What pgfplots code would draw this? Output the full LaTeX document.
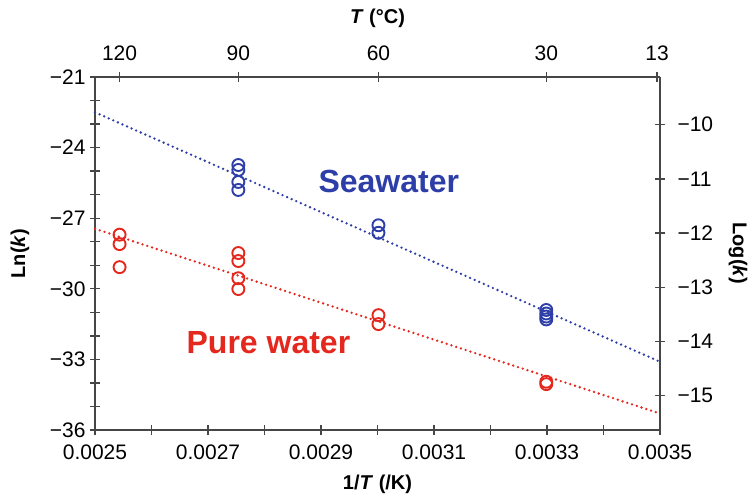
\documentclass[border=0pt]{standalone}
\usepackage{fontspec}
\setmainfont{Liberation Sans}
\usepackage{pgfplots}
\pgfplotsset{compat=1.18}
\definecolor{sea}{RGB}{46,62,168}
\definecolor{pure}{RGB}{228,40,30}
\definecolor{axgray}{RGB}{70,70,70}

\pgfplotstableread{
x y
0.0027537 -24.74
0.0027537 -24.95
0.0027537 -25.46
0.0027537 -25.80
0.0030017 -27.30
0.0030017 -27.62
0.0032987 -30.90
0.0032987 -31.05
0.0032987 -31.18
0.0032987 -31.30
}\seawater

\pgfplotstableread{
x y
0.0025435 -27.70
0.0025435 -28.10
0.0025435 -29.08
0.0027537 -28.48
0.0027537 -28.82
0.0027537 -29.55
0.0027537 -30.01
0.0030017 -31.12
0.0030017 -31.50
0.0032987 -33.95
0.0032987 -34.05
}\purewater

\begin{document}
\begin{tikzpicture}
\pgfplotsset{
  base/.style={
    width=565pt, height=353pt, scale only axis,
    xmin=0.0025, xmax=0.0035,
    scaled x ticks=false, scaled y ticks=false,
    axis line style={axgray, line width=1.3pt},
    tick style={axgray, line width=1.3pt},
    tick align=center,
    major tick length=10pt, minor tick length=10pt,
    tick label style={font=\fontsize{21}{24}\selectfont},
    label style={font=\fontsize{20}{24}\selectfont\bfseries},
    clip=false,
  }
}
% main axis: 1/T against ln(k)
\begin{axis}[base,
  axis x line*=bottom, axis y line*=left,
  ymin=-36, ymax=-21,
  xtick={0.0025,0.0027,0.0029,0.0031,0.0033,0.0035},
  xticklabels={0.0025,0.0027,0.0029,0.0031,0.0033,0.0035},
  minor xtick={0.0026,0.0028,0.0030,0.0032,0.0034},
  ytick={-36,-33,-30,-27,-24,-21},
  yticklabels={−36,−33,−30,−27,−24,−21},
  minor ytick={-35,-34,-32,-31,-29,-28,-26,-25,-23,-22},
  xticklabel shift=6pt,
  yticklabel shift=1pt,
  xlabel={1/\textit{T} (/K)},
  ylabel={Ln(\textit{k})},
  xlabel style={at={(axis description cs:0.5,-0.153)}, anchor=center},
  ylabel style={at={(axis description cs:-0.133,0.5)}, anchor=center},
]
\coordinate (sw) at (rel axis cs:0,0);
\coordinate (ne) at (rel axis cs:1,1);
\addplot[sea, line width=2.6pt, line cap=round, dash pattern=on 0pt off 5pt]
  coordinates {(0.0025,-22.5) (0.0035,-33.1)};
\addplot[pure, line width=2.6pt, line cap=round, dash pattern=on 0pt off 5pt]
  coordinates {(0.0025,-27.45) (0.0035,-35.3)};
\addplot[only marks, mark=o, sea, mark size=6pt, line width=1.9pt] table {\seawater};
\addplot[only marks, mark=o, pure, mark size=6pt, line width=1.9pt] table {\purewater};
\node[sea, font=\fontsize{32}{36}\selectfont\bfseries] at (axis cs:0.003020,-25.46) {Seawater};
\node[pure, font=\fontsize{32}{36}\selectfont\bfseries] at (axis cs:0.002807,-32.3) {Pure water};
\end{axis}

% top axis: temperature in degrees C
\begin{axis}[base,
  axis x line*=top, axis y line=none,
  ymin=-36, ymax=-21,
  xtick={0.0025435,0.0027537,0.0030017,0.0032987,0.0034947},
  xticklabels={120,90,60,30,13},
  xticklabel style={yshift=8pt},
  xlabel={\textit{T} (°C)},
  xlabel style={at={(axis description cs:0.5,1.165)}, anchor=center},
]
\addplot[draw=none] coordinates {(0.003,-30)};
\end{axis}

% right axis: log10(k)
\begin{axis}[base,
  axis x line=none, axis y line*=right,
  ymin=-15.6347, ymax=-9.1202,
  ytick={-15,-14,-13,-12,-11,-10},
  yticklabels={−15,−14,−13,−12,−11,−10},
  yticklabel style={xshift=9pt},
  ylabel={Log(\textit{k})},
  ylabel style={at={(axis description cs:1.138,0.5)}, anchor=center, rotate=180},
]
\addplot[draw=none] coordinates {(0.003,-12)};
\end{axis}

\pgfresetboundingbox
\path ([shift={(-95pt,-66pt)}]sw) rectangle ([shift={(88pt,77pt)}]ne);
\end{tikzpicture}
\end{document}
